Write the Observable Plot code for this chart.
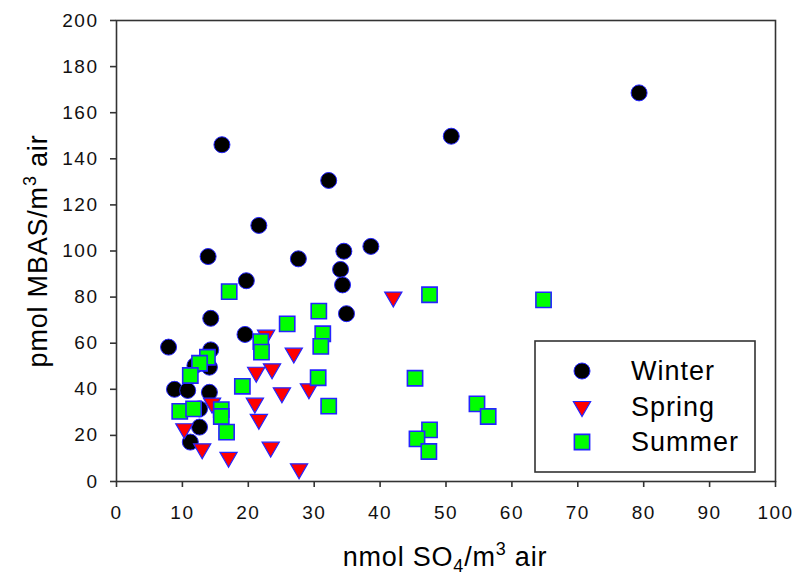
<!DOCTYPE html>
<html>
<head>
<meta charset="utf-8">
<script src="https://cdn.jsdelivr.net/npm/d3@7"></script>
<script src="https://cdn.jsdelivr.net/npm/@observablehq/plot@0.6"></script>
<style>
  html, body { margin: 0; padding: 0; background: #fff; }
  #chart svg text { letter-spacing: 1.5px; }
</style>
</head>
<body>
<div id="chart"></div>
<script>
// ---- data ----
const seasons = ["Winter", "Spring", "Summer"];

const winterX = [79.3, 50.8, 16.0, 32.2, 21.6, 13.9, 27.6, 34.5, 38.6, 34.0, 34.3, 19.7, 34.9, 14.3, 19.5, 7.9, 14.3, 11.9, 14.1, 8.8, 10.8, 14.1, 12.6, 12.6, 11.2];
const winterY = [168.6, 149.8, 146.1, 130.6, 111.1, 97.6, 96.6, 99.9, 102.0, 92.0, 85.3, 87.1, 72.8, 70.8, 63.8, 58.3, 57.1, 50.3, 49.6, 40.0, 39.5, 38.7, 31.5, 23.6, 17.1];

const springX = [22.7, 21.2, 23.6, 25.1, 21.0, 21.6, 14.5, 10.3, 13.0, 17.0, 23.4, 42.0, 26.9, 29.2, 27.7];
const springY = [63.5, 47.4, 48.9, 38.5, 34.0, 27.0, 34.0, 22.9, 14.2, 10.5, 14.9, 80.0, 55.7, 40.2, 5.5];

const summerX = [17.1, 21.9, 22.0, 13.8, 12.6, 11.2, 19.1, 9.6, 11.7, 15.9, 15.9, 16.7, 47.5, 30.7, 25.9, 31.3, 31.0, 30.6, 32.2, 45.3, 47.5, 45.6, 47.4, 54.7, 64.8, 56.4];
const summerY = [82.4, 60.7, 56.1, 53.9, 51.3, 46.0, 41.3, 30.4, 31.5, 31.2, 28.2, 21.4, 81.0, 73.9, 68.4, 64.1, 58.6, 45.0, 32.7, 44.8, 22.4, 18.5, 13.0, 33.7, 78.8, 28.2];

const xTicks = [0, 10, 20, 30, 40, 50, 60, 70, 80, 90, 100];
const yTicks = [0, 20, 40, 60, 80, 100, 120, 140, 160, 180, 200];

const toRows = (xs, ys) => xs.map((x, i) => ({x, y: ys[i]}));
const winter = toRows(winterX, winterY);
const spring = toRows(springX, springY);
const summer = toRows(summerX, summerY);

// ---- styles ----
const axisColor = "#333";
const edge = "#2424ff";
const styles = {
  Winter: {symbol: "circle", r: 8, fill: "#000", stroke: edge, strokeWidth: 1, rotate: 0},
  Spring: {symbol: "triangle", r: 6.4, fill: "#ff0000", stroke: edge, strokeWidth: 1.2, rotate: 180},
  Summer: {symbol: "square", r: 8.6, fill: "#00ff00", stroke: edge, strokeWidth: 1.6, rotate: 0}
};
const font = "'Liberation Sans', Arial, Helvetica, sans-serif";

const chart = Plot.plot({
  width: 794,
  height: 577,
  marginLeft: 116,
  marginRight: 19,
  marginTop: 20,
  marginBottom: 96,
  style: {fontFamily: font, fontSize: "18px", color: "#000", background: "#fff", overflow: "visible"},
  x: {domain: [0, 100]},
  y: {domain: [0, 200]},
  marks: [
    Plot.frame({stroke: axisColor, strokeWidth: 1.6}),
    Plot.axisX(xTicks, {tickSize: 6, tickPadding: 18, label: null, stroke: axisColor, strokeWidth: 1.6, fill: "#111", fontSize: 19}),
    Plot.axisY(yTicks, {tickSize: 6, tickPadding: 12, label: null, stroke: axisColor, strokeWidth: 1.6, fill: "#111", fontSize: 19}),
    Plot.dot(winter, {x: "x", y: "y", ...styles.Winter}),
    Plot.dot(spring, {x: "x", y: "y", ...styles.Spring}),
    Plot.dot(summer, {x: "x", y: "y", ...styles.Summer})
  ]
});
document.getElementById("chart").appendChild(chart);

// ---- axis titles with sub/superscripts ----
const svg = d3.select(chart);
const xT = svg.append("text")
  .attr("x", 445).attr("y", 566)
  .attr("text-anchor", "middle")
  .style("font-family", font).style("font-size", "27px").style("letter-spacing", "0.8px")
  .attr("fill", "#000");
xT.append("tspan").text("nmol SO");
xT.append("tspan").attr("dy", 6).style("font-size", "18px").text("4");
xT.append("tspan").attr("dy", -6).text("/m");
xT.append("tspan").attr("dy", -11).style("font-size", "18px").text("3");
xT.append("tspan").attr("dy", 11).text(" air");

const yT = svg.append("text")
  .attr("transform", "translate(47,251) rotate(-90)")
  .attr("text-anchor", "middle")
  .style("font-family", font).style("font-size", "27px").style("letter-spacing", "0.8px")
  .attr("fill", "#000");
yT.append("tspan").text("pmol MBAS/m");
yT.append("tspan").attr("dy", -11).style("font-size", "18px").text("3");
yT.append("tspan").attr("dy", 11).text(" air");

// ---- legend ----
const lg = svg.append("g").attr("aria-label", "legend");
lg.append("rect").attr("x", 535).attr("y", 341).attr("width", 220).attr("height", 131)
  .attr("fill", "#fff").attr("stroke", axisColor).attr("stroke-width", 1.6);
const symbolType = {circle: d3.symbolCircle, triangle: d3.symbolTriangle, square: d3.symbolSquare};
seasons.forEach((name, i) => {
  const s = styles[name];
  const cy = 371 + i * 35.5;
  lg.append("path")
    .attr("d", d3.symbol(symbolType[s.symbol], Math.PI * s.r * s.r)())
    .attr("transform", `translate(582,${cy}) rotate(${s.rotate})`)
    .attr("fill", s.fill).attr("stroke", s.stroke).attr("stroke-width", s.strokeWidth);
  lg.append("text").attr("x", 631).attr("y", cy + 9)
    .attr("text-anchor", "start")
    .style("font-family", font).style("font-size", "27px").style("letter-spacing", "1px")
    .attr("fill", "#000").text(name);
});
</script>
</body>
</html>
